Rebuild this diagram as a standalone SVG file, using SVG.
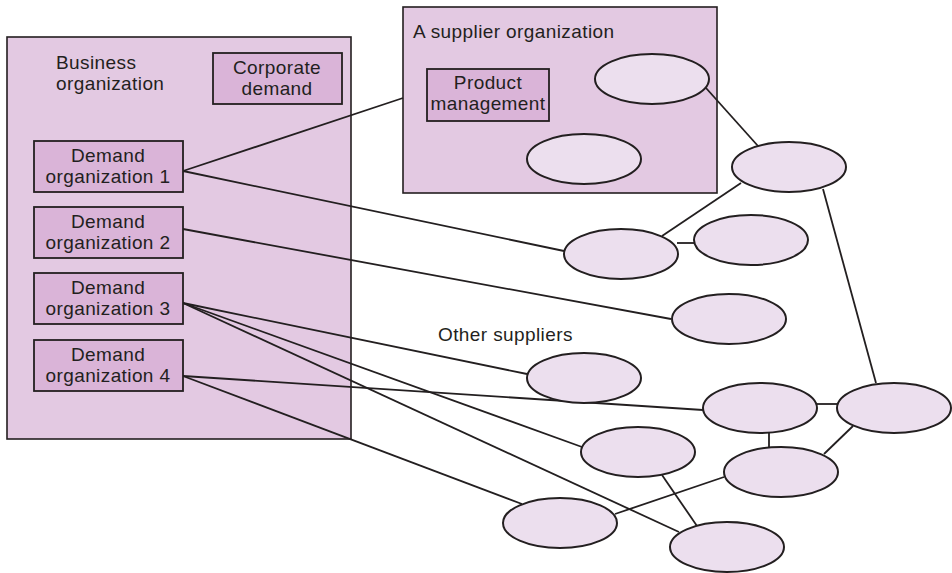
<svg xmlns="http://www.w3.org/2000/svg" width="952" height="573" viewBox="0 0 952 573">
<style>
.bg{fill:#ffffff}
.org{fill:#e3c9e2;stroke:#231f20;stroke-width:1.6}
.box{fill:#dab4d8;stroke:#231f20;stroke-width:1.8}
.ell{fill:#ecdfee;stroke:#231f20;stroke-width:2}
.ln{stroke:#231f20;stroke-width:1.8;fill:none}
text{font-family:"Liberation Sans",Arial,sans-serif;font-size:19px;fill:#231f20;letter-spacing:0.4px}
.c{text-anchor:middle}
</style>
<rect class="bg" x="0" y="0" width="952" height="573"/>
<g id="business-organization">
<rect class="org" x="7" y="37" width="344" height="402"/>
<text x="56" y="69">Business</text>
<text x="56" y="90">organization</text>
</g>
<g id="supplier-organization">
<rect class="org" x="403" y="7" width="314" height="186"/>
<text x="413" y="38">A supplier organization</text>
</g>
<g id="connectors">
<line class="ln" x1="183" y1="171" x2="403" y2="98"/>
<line class="ln" x1="183" y1="171" x2="564" y2="251"/>
<line class="ln" x1="183" y1="229" x2="671" y2="319"/>
<line class="ln" x1="183" y1="303" x2="527" y2="374"/>
<line class="ln" x1="183" y1="303" x2="582" y2="447"/>
<line class="ln" x1="183" y1="303" x2="679" y2="532"/>
<line class="ln" x1="183" y1="376" x2="703" y2="410"/>
<line class="ln" x1="183" y1="376" x2="522" y2="504"/>
<line class="ln" x1="706" y1="88" x2="758" y2="146"/>
<line class="ln" x1="741" y1="183" x2="662" y2="236"/>
<line class="ln" x1="677" y1="243" x2="695" y2="243"/>
<line class="ln" x1="823" y1="189" x2="876" y2="383"/>
<line class="ln" x1="817" y1="404" x2="839" y2="404"/>
<line class="ln" x1="769" y1="433" x2="769" y2="447"/>
<line class="ln" x1="853" y1="426" x2="824" y2="454"/>
<line class="ln" x1="615" y1="514" x2="724" y2="477"/>
<line class="ln" x1="662" y1="475" x2="697" y2="526"/>
</g>
<g id="corporate-demand">
<rect class="box" x="213" y="53" width="129" height="51"/>
<text class="c" x="277" y="74">Corporate</text>
<text class="c" x="277" y="95">demand</text>
</g>
<g id="demand-org-1">
<rect class="box" x="34" y="141" width="149" height="51"/>
<text class="c" x="108" y="162">Demand</text>
<text class="c" x="108" y="183">organization 1</text>
</g>
<g id="demand-org-2">
<rect class="box" x="34" y="207" width="149" height="51"/>
<text class="c" x="108" y="228">Demand</text>
<text class="c" x="108" y="249">organization 2</text>
</g>
<g id="demand-org-3">
<rect class="box" x="34" y="273" width="149" height="51"/>
<text class="c" x="108" y="294">Demand</text>
<text class="c" x="108" y="315">organization 3</text>
</g>
<g id="demand-org-4">
<rect class="box" x="34" y="340" width="149" height="51"/>
<text class="c" x="108" y="361">Demand</text>
<text class="c" x="108" y="382">organization 4</text>
</g>
<g id="product-management">
<rect class="box" x="427" y="69" width="122" height="52"/>
<text class="c" x="488" y="89">Product</text>
<text class="c" x="488" y="110">management</text>
</g>
<g id="other-suppliers-label">
<text x="438" y="341">Other suppliers</text>
</g>
<g id="s1"><ellipse class="ell" cx="652" cy="79" rx="57" ry="25"/></g>
<g id="s2"><ellipse class="ell" cx="584" cy="159" rx="57" ry="25"/></g>
<g id="nA"><ellipse class="ell" cx="789" cy="167" rx="57" ry="25"/></g>
<g id="nB"><ellipse class="ell" cx="621" cy="254" rx="57" ry="25"/></g>
<g id="nC"><ellipse class="ell" cx="751" cy="240" rx="57" ry="25"/></g>
<g id="nE"><ellipse class="ell" cx="729" cy="319" rx="57" ry="25"/></g>
<g id="nF"><ellipse class="ell" cx="584" cy="378" rx="57" ry="25"/></g>
<g id="nG"><ellipse class="ell" cx="760" cy="408" rx="57" ry="25"/></g>
<g id="nH"><ellipse class="ell" cx="894" cy="408" rx="57" ry="25"/></g>
<g id="nI"><ellipse class="ell" cx="638" cy="452" rx="57" ry="25"/></g>
<g id="nJ"><ellipse class="ell" cx="781" cy="472" rx="57" ry="25"/></g>
<g id="nK"><ellipse class="ell" cx="560" cy="523" rx="57" ry="25"/></g>
<g id="nL"><ellipse class="ell" cx="727" cy="547" rx="57" ry="25"/></g>
</svg>
